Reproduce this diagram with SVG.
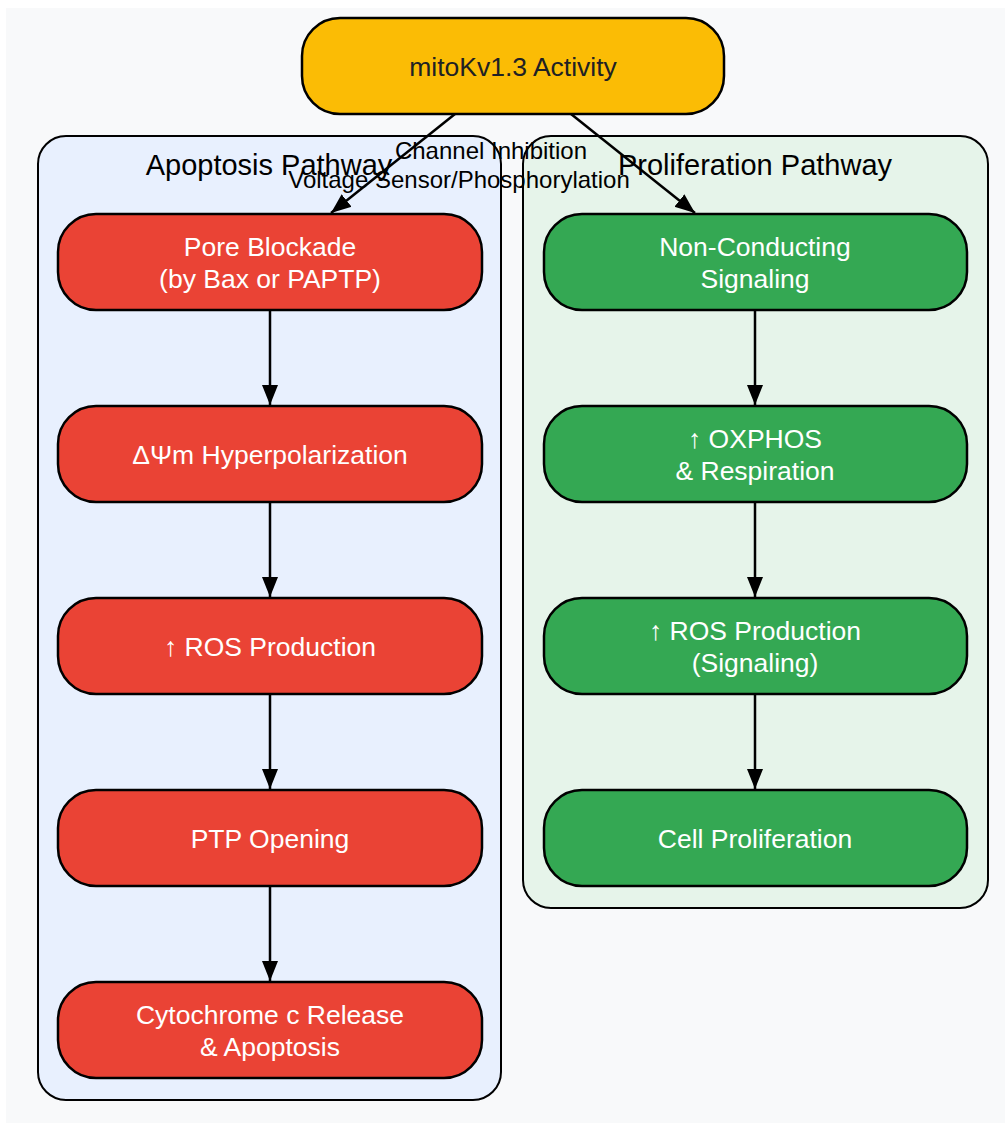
<svg xmlns="http://www.w3.org/2000/svg" width="1005" height="1123" viewBox="0 0 1005 1123">
<defs>
<marker id="arr" viewBox="0 0 10 10" refX="10" refY="5" markerWidth="20" markerHeight="20" markerUnits="userSpaceOnUse" orient="auto">
<path d="M0,1 L10,5 L0,9 z" fill="#000"/>
</marker>
<style>
text{font-family:"Liberation Sans",Arial,sans-serif;text-anchor:middle}
.cl{stroke:#000;stroke-width:2}
.title{font-size:29px;fill:#000}
.nd{stroke:#000;stroke-width:2.5}
.red{fill:#ea4335}
.grn{fill:#34a853}
.nt{font-size:26.5px;fill:#fff}
.e{stroke:#000;stroke-width:2.5;fill:none;marker-end:url(#arr)}
.el{font-size:24px;fill:#000}
</style>
</defs>
<rect x="6" y="8" width="999" height="1115" fill="#f8f9fa"/>
<g id="cluster-apoptosis">
<rect class="cl" x="38" y="136" width="463" height="964" rx="28" fill="#e8f0fe"/>
<text class="title" x="269" y="175">Apoptosis Pathway</text>
</g>
<g id="cluster-proliferation">
<rect class="cl" x="523" y="136" width="465" height="772" rx="28" fill="#e6f4ea"/>
<text class="title" x="755" y="175">Proliferation Pathway</text>
</g>
<g id="connectors">
<line class="e" x1="455" y1="114" x2="331" y2="213"/>
<line class="e" x1="571" y1="114" x2="695" y2="213"/>
<line class="e" x1="270" y1="310" x2="270" y2="405"/>
<line class="e" x1="270" y1="502" x2="270" y2="597"/>
<line class="e" x1="270" y1="694" x2="270" y2="789"/>
<line class="e" x1="270" y1="886" x2="270" y2="981"/>
<line class="e" x1="755" y1="310" x2="755" y2="405"/>
<line class="e" x1="755" y1="502" x2="755" y2="597"/>
<line class="e" x1="755" y1="694" x2="755" y2="789"/>
<text class="el" x="491" y="159">Channel Inhibition</text>
<text class="el" x="459" y="188">Voltage Sensor/Phosphorylation</text>
</g>
<g id="node-mitokv">
<rect class="nd" x="302" y="18" width="422" height="96" rx="38" fill="#fbbc05"/>
<text x="513" y="76" font-size="26.5" fill="#202124">mitoKv1.3 Activity</text>
</g>
<g id="node-pore">
<rect class="nd red" x="58" y="214" width="424" height="96" rx="38"/>
<text class="nt" x="270" y="256">Pore Blockade</text>
<text class="nt" x="270" y="288">(by Bax or PAPTP)</text>
</g>
<g id="node-hyper">
<rect class="nd red" x="58" y="406" width="424" height="96" rx="38"/>
<text class="nt" x="270" y="464">ΔΨm Hyperpolarization</text>
</g>
<g id="node-ros-a">
<rect class="nd red" x="58" y="598" width="424" height="96" rx="38"/>
<text class="nt" x="270" y="656">↑ ROS Production</text>
</g>
<g id="node-ptp">
<rect class="nd red" x="58" y="790" width="424" height="96" rx="38"/>
<text class="nt" x="270" y="848">PTP Opening</text>
</g>
<g id="node-cyto">
<rect class="nd red" x="58" y="982" width="424" height="96" rx="38"/>
<text class="nt" x="270" y="1024">Cytochrome c Release</text>
<text class="nt" x="270" y="1056">&amp; Apoptosis</text>
</g>
<g id="node-noncond">
<rect class="nd grn" x="544" y="214" width="423" height="96" rx="38"/>
<text class="nt" x="755" y="256">Non-Conducting</text>
<text class="nt" x="755" y="288">Signaling</text>
</g>
<g id="node-oxphos">
<rect class="nd grn" x="544" y="406" width="423" height="96" rx="38"/>
<text class="nt" x="755" y="448">↑ OXPHOS</text>
<text class="nt" x="755" y="480">&amp; Respiration</text>
</g>
<g id="node-ros-p">
<rect class="nd grn" x="544" y="598" width="423" height="96" rx="38"/>
<text class="nt" x="755" y="640">↑ ROS Production</text>
<text class="nt" x="755" y="672">(Signaling)</text>
</g>
<g id="node-prolif">
<rect class="nd grn" x="544" y="790" width="423" height="96" rx="38"/>
<text class="nt" x="755" y="848">Cell Proliferation</text>
</g>
</svg>
